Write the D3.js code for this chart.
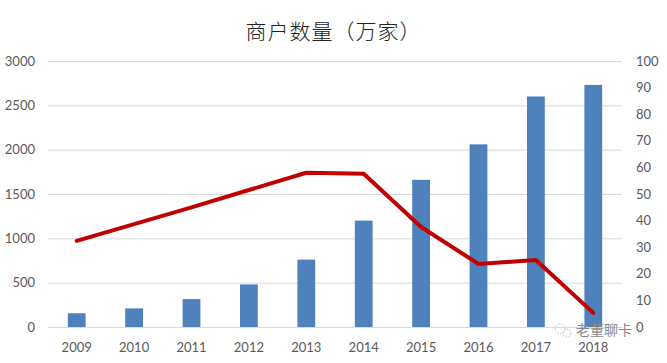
<!DOCTYPE html>
<html>
<head>
<meta charset="utf-8">
<script src="https://cdn.jsdelivr.net/npm/d3@7"></script>
<style>
  body { margin: 0; background: #fff; }
  svg { display: block; }
</style>
</head>
<body>
<svg></svg>
<script>
const width = 667
const height = 363

const years = ['2009', '2010', '2011', '2012', '2013', '2014', '2015', '2016', '2017', '2018']
const merchants = [155, 210, 315, 480, 760, 1200, 1660, 2060, 2600, 2730]
const growth = [32.4, 38.7, 45, 51.5, 58, 57.6, 37.6, 23.7, 25.2, 5.3]
const leftTicks = [0, 500, 1000, 1500, 2000, 2500, 3000]
const rightTicks = [0, 10, 20, 30, 40, 50, 60, 70, 80, 90, 100]

const plot = { left: 48, right: 622, top: 61, bottom: 327 }
const tickFont = 'Lato, "Noto Sans", sans-serif'

const svg = d3.select('svg').attr('width', width).attr('height', height)

const x = d3.scaleBand()
  .domain(years)
  .range([plot.left, plot.right])
  .paddingInner(0.69)
  .paddingOuter(0.345)

const yLeft = d3.scaleLinear().domain([0, 3000]).range([plot.bottom, plot.top])
const yRight = d3.scaleLinear().domain([0, 100]).range([plot.bottom, plot.top])

// gridlines
svg.append('g')
  .attr('transform', `translate(${plot.left},0)`)
  .call(d3.axisLeft(yLeft).tickValues(leftTicks).tickSize(-(plot.right - plot.left)).tickFormat(''))
  .call(g => g.select('.domain').remove())
  .call(g => g.selectAll('line').attr('stroke', '#d9d9d9').attr('stroke-width', 1))

// left axis labels
svg.append('g')
  .attr('transform', `translate(${plot.left},0)`)
  .call(d3.axisLeft(yLeft).tickValues(leftTicks).tickSize(0).tickPadding(13).tickFormat(d3.format('d')))
  .call(g => g.select('.domain').remove())
  .call(g => g.selectAll('text')
    .attr('fill', '#595959')
    .style('font-family', tickFont)
    .style('font-size', '13px'))

// right axis labels
svg.append('g')
  .attr('transform', `translate(${plot.right},0)`)
  .call(d3.axisRight(yRight).tickValues(rightTicks).tickSize(0).tickPadding(14).tickFormat(d3.format('d')))
  .call(g => g.select('.domain').remove())
  .call(g => g.selectAll('text')
    .attr('fill', '#595959')
    .style('font-family', tickFont)
    .style('font-size', '13px'))

// x axis
svg.append('g')
  .attr('transform', `translate(0,${plot.bottom})`)
  .call(d3.axisBottom(x).tickSize(0).tickPadding(16))
  .call(g => g.select('.domain').attr('stroke', '#d9d9d9'))
  .call(g => g.selectAll('text')
    .attr('fill', '#595959')
    .style('font-family', tickFont)
    .style('font-size', '13px'))

// bars
svg.append('g')
  .selectAll('rect')
  .data(years)
  .join('rect')
  .attr('x', d => x(d))
  .attr('width', x.bandwidth())
  .attr('y', (d, i) => yLeft(merchants[i]))
  .attr('height', (d, i) => yLeft(0) - yLeft(merchants[i]))
  .attr('fill', '#4f81bd')

// line
const line = d3.line()
  .x((d, i) => x(years[i]) + x.bandwidth() / 2)
  .y(d => yRight(d))

svg.append('path')
  .datum(growth)
  .attr('d', line)
  .attr('fill', 'none')
  .attr('stroke', '#c00000')
  .attr('stroke-width', 4)
  .attr('stroke-linejoin', 'round')
  .attr('stroke-linecap', 'round')

// title
svg.append('text')
  .attr('x', width / 2)
  .attr('y', 39)
  .attr('text-anchor', 'middle')
  .attr('fill', '#222')
  .style('font-family', '"Noto Sans CJK SC", sans-serif')
  .style('font-weight', 300)
  .style('font-size', '21px')
  .style('letter-spacing', '1px')
  .text('商户数量（万家）')

// watermark
const wm = svg.append('g').attr('transform', 'translate(552,333)')
wm.append('circle').attr('cx', 8).attr('cy', -4).attr('r', 5)
  .attr('fill', 'none').attr('stroke', '#bbb').attr('stroke-dasharray', '1.5,1.5')
wm.append('circle').attr('cx', 15).attr('cy', 0).attr('r', 4)
  .attr('fill', 'none').attr('stroke', '#bbb').attr('stroke-dasharray', '1.5,1.5')
wm.append('text')
  .attr('x', 24)
  .attr('y', 2)
  .attr('fill', '#888')
  .style('font-family', '"Noto Sans CJK SC", sans-serif')
  .style('font-size', '14px')
  .text('老董聊卡')
</script>
</body>
</html>
